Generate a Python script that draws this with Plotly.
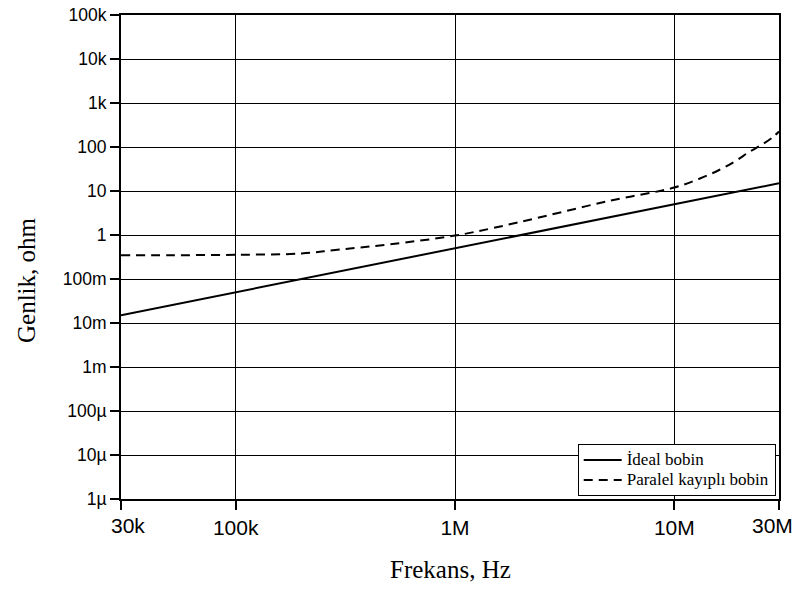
import math
import plotly.graph_objects as go

# Data
freq_ideal = [3e4, 1e5, 1e6, 1e7, 3e7]
z_ideal = [0.015, 0.05, 0.5, 5, 15]

freq_loss = [3e4, 5e4, 1e5, 2e5, 3e5, 5e5, 1e6, 1.5e6, 2.5e6, 5e6, 1e7,
             1.3e7, 1.6e7, 1.9e7, 2.2e7, 2.5e7, 2.8e7, 3e7]
z_loss = [0.345, 0.347, 0.355, 0.38, 0.47, 0.61, 0.97, 1.45, 2.6, 5.9, 12,
          19, 30, 48, 78, 112, 165, 225]

x_tickvals = [3e4, 1e5, 1e6, 1e7, 3e7]
x_ticktext = ["30k", "100k", "1M", "10M", "30M"]
y_tickvals = [1e5, 1e4, 1e3, 1e2, 1e1, 1, 1e-1, 1e-2, 1e-3, 1e-4, 1e-5, 1e-6]
y_ticktext = ["100k", "10k", "1k", "100", "10", "1", "100m", "10m", "1m",
              "100\u00b5", "10\u00b5", "1\u00b5"]

name_ideal = "\u0130deal bobin"
name_loss = "Paralel kay\u0131pl\u0131 bobin"
x_title = "Frekans, Hz"
y_title = "Genlik, ohm"


def legend_label(s):
    return "<span style='font-size:17px'>" + s + "</span>"


fig = go.Figure()
fig.add_trace(go.Scatter(x=freq_ideal, y=z_ideal, mode="lines", name=legend_label(name_ideal),
                         line=dict(color="black", width=2)))
fig.add_trace(go.Scatter(x=freq_loss, y=z_loss, mode="lines", name=legend_label(name_loss),
                         line=dict(color="black", width=2, dash="9px,6px", shape="spline")))

fig.update_layout(
    width=799, height=592,
    margin=dict(l=121, r=20, t=15, b=93, autoexpand=False),
    paper_bgcolor="white", plot_bgcolor="white",
    showlegend=True,
    legend=dict(x=0.995, y=0.006, xanchor="right", yanchor="bottom",
                bgcolor="white", bordercolor="black", borderwidth=1,
                font=dict(family="Liberation Serif", size=13, color="black"),
                tracegroupgap=0, itemwidth=38),
    font=dict(family="Liberation Sans", color="black"),
)

# inner tick labels drawn on the axis; end labels are nudged inward like the reference
inner_text = ["" if i in (0, len(x_ticktext) - 1) else t for i, t in enumerate(x_ticktext)]

fig.update_xaxes(
    type="log", range=[math.log10(3e4), math.log10(3e7)], automargin=False,
    tickvals=x_tickvals, ticktext=inner_text,
    tickfont=dict(family="Liberation Sans", size=21, color="black"),
    ticks="outside", ticklen=9, tickwidth=1.5, tickcolor="black",
    showline=True, linewidth=2, linecolor="black", mirror=True,
    showgrid=True, gridcolor="black", gridwidth=1.3,
    zeroline=False,
)
fig.update_yaxes(
    type="log", range=[-6, 5], automargin=False,
    tickvals=y_tickvals, ticktext=y_ticktext, ticklabeloverflow="allow",
    tickfont=dict(family="Liberation Sans", size=17.5, color="black"),
    ticks="outside", ticklen=9, tickwidth=1.5, tickcolor="black",
    showline=True, linewidth=2, linecolor="black", mirror=True,
    showgrid=True, gridcolor="black", gridwidth=1.3,
    zeroline=False,
)

for idx, shift in ((0, 7), (len(x_ticktext) - 1, -7)):
    fig.add_annotation(text=x_ticktext[idx], xref="x", yref="paper",
                       x=math.log10(x_tickvals[idx]), y=0, yshift=-13, xshift=shift,
                       xanchor="center", yanchor="top", showarrow=False,
                       font=dict(family="Liberation Sans", size=21, color="black"))

fig.add_annotation(text=x_title, xref="paper", yref="paper", x=0.5, y=0,
                   yshift=-55, xanchor="center", yanchor="top", showarrow=False,
                   font=dict(family="Liberation Serif", size=25, color="black"))
fig.add_annotation(text=y_title, xref="paper", yref="paper", x=0, y=0.5,
                   xshift=-95, yshift=-23, xanchor="center", yanchor="middle",
                   textangle=-90, showarrow=False,
                   font=dict(family="Liberation Serif", size=25, color="black"))

# remove the default page margin so the 799x592 figure fills the window exactly
fig.write_html("out.html", config={"displayModeBar": False},
               post_script="document.body.style.margin='0';")
